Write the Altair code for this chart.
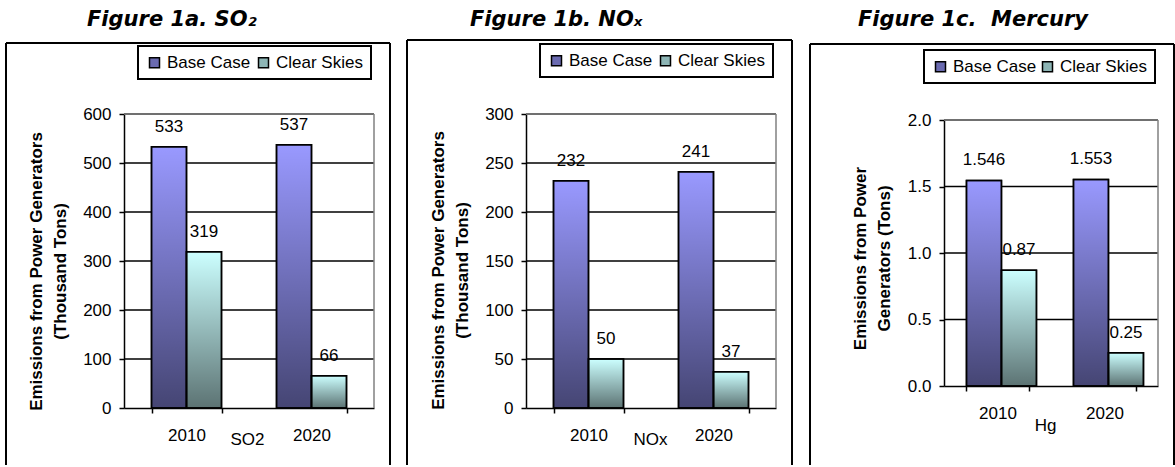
import altair as alt
import pandas as pd

# ---------------- data ----------------
years = ["2010", "2020"]
series = ["Base Case", "Clear Skies"]

so2_base = [533, 537]
so2_clear = [319, 66]
nox_base = [232, 241]
nox_clear = [50, 37]
hg_base = [1.546, 1.553]
hg_clear = [0.87, 0.25]

so2_ticks = [0, 100, 200, 300, 400, 500, 600]
nox_ticks = [0, 50, 100, 150, 200, 250, 300]
hg_ticks = [0.0, 0.5, 1.0, 1.5, 2.0]

titles = ["Figure 1a. SO\u2082", "Figure 1b. NO\u2093", "Figure 1c.\u00a0 Mercury"]
x_titles = ["SO2", "NOx", "Hg"]
y_titles = [
    ["Emissions from Power Generators", "(Thousand Tons)"],
    ["Emissions from Power Generators", "(Thousand Tons)"],
    ["Emissions from Power", "Generators (Tons)"],
]

# ---------------- style ----------------
FONT = "Liberation Sans"
TITLE_FONT = "DejaVu Sans"
CANVAS_H = 467
TOP_COLORS = ["#9999FF", "#CCFFFF"]
SWATCH_COLORS = ["#6A6AB0", "#8DB5B5"]
SHADE = {
    "gradient": "linear", "x1": 0, "y1": 0, "x2": 0, "y2": 1,
    "stops": [{"offset": 0, "color": "rgba(0,0,0,0)"},
              {"offset": 1, "color": "rgba(0,0,0,0.55)"}],
}
ORIGIN_Y = 114


def frame(base, clear):
    rows = []
    for i, yr in enumerate(years):
        rows.append({"year": yr, "series": series[0], "value": base[i], "label": f"{base[i]:g}"})
        rows.append({"year": yr, "series": series[1], "value": clear[i], "label": f"{clear[i]:g}"})
    return pd.DataFrame(rows)


def panel(df, ticks, fmt, ytitle, xtitle, fig_title, g):
    L, T = g["left"], ORIGIN_Y
    W, H = g["W"], g["H"]          # group size (flush layout)
    PW, PT = g["PW"], g["PT"]      # drawn plot width / top inset
    one = pd.DataFrame({"k": [0]})

    x = alt.X("year:N", sort=years,
              scale=alt.Scale(range=[0, PW], paddingInner=g["pi"], paddingOuter=g["pi"] / 2),
              axis=alt.Axis(title=xtitle, titleFont=FONT, titleFontSize=17, titleFontWeight="normal",
                            titleColor="black", titleX=g["xtx"], titleY=g["xty"], titleBaseline="middle",
                            titleAlign="center",
                            labelAngle=0, labelFont=FONT, labelFontSize=17, labelColor="black",
                            labelPadding=14, tickBand="extent", ticks=True, tickSize=5,
                            tickColor="black", tickWidth=1.5, domainColor="black", domainWidth=1.5,
                            grid=False))
    xo = alt.XOffset("series:N", scale=alt.Scale(domain=series, paddingInner=0, paddingOuter=0))
    y = alt.Y("value:Q", scale=alt.Scale(domain=[0, ticks[-1]], range=[H, PT], nice=False, zero=True),
              axis=alt.Axis(values=ticks, format=fmt, title=ytitle, titleFont=FONT, titleFontSize=17,
                            titleFontWeight="bold", titleColor="black", titleAngle=-90,
                            titleX=g["ytx"], titleY=g["yty"], titleBaseline="middle", titleAlign="center",
                            titleLineHeight=24,
                            labelFont=FONT, labelFontSize=17, labelColor="black", labelPadding=8,
                            tickSize=5, tickColor="black", tickWidth=1.5,
                            domainColor="black", domainWidth=1.5, grid=False))

    bounds = alt.Chart(one).mark_rect(opacity=0).encode(
        x=alt.value(g["c0"] - L), x2=alt.value(g["c1"] - L),
        y=alt.value(-T), y2=alt.value(CANVAS_H - T))

    bottom = CANVAS_H - T - 2
    b_left = alt.Chart(one).mark_rule(color="black", strokeWidth=2).encode(
        x=alt.value(g["bl"] - L), y=alt.value(g["bt"] - T), y2=alt.value(bottom))
    b_right = alt.Chart(one).mark_rule(color="black", strokeWidth=2).encode(
        x=alt.value(g["br"] - L), y=alt.value(g["bt"] - T), y2=alt.value(bottom))
    b_top = alt.Chart(one).mark_rule(color="black", strokeWidth=2).encode(
        x=alt.value(g["bl"] - L), x2=alt.value(g["br"] - L), y=alt.value(g["bt"] - T))

    ttl = alt.Chart(pd.DataFrame({"t": [fig_title]})).mark_text(
        font=TITLE_FONT, fontSize=21, fontWeight="bold", fontStyle="italic", align="left",
        baseline="alphabetic", color="black").encode(
        text="t:N", x=alt.value(g["tx"] - L), y=alt.value(26 - T))

    grid = alt.Chart(pd.DataFrame({"value": ticks[1:]})).mark_rule(
        color="black", strokeWidth=1.3).encode(y=y, x=alt.value(0), x2=alt.value(PW))

    legend_layer = alt.Chart(df).mark_bar().encode(
        x=x, xOffset=xo, y=y,
        fill=alt.Fill("series:N", scale=alt.Scale(domain=series, range=SWATCH_COLORS),
                      legend=alt.Legend(title=None, orient="none", legendX=g["lx"], legendY=g["ly"],
                                        direction="horizontal", symbolType="square", symbolSize=100,
                                        symbolStrokeColor="black", symbolStrokeWidth=1.5,
                                        symbolOpacity=1,
                                        labelFont=FONT, labelFontSize=17, labelColor="black",
                                        labelOffset=4, columnPadding=g["cp"], labelLimit=0,
                                        strokeColor="black", padding=8,
                                        fillColor="white")))

    bars = alt.Chart(df).mark_bar(stroke="black", strokeWidth=1.5).encode(
        x=x, xOffset=xo, y=y,
        color=alt.Color("series:N", scale=alt.Scale(domain=series, range=TOP_COLORS), legend=None))

    shade = alt.Chart(df).mark_bar(fill=SHADE, stroke="black", strokeWidth=1.5).encode(
        x=x, xOffset=xo, y=y)

    f_top = alt.Chart(one).mark_rule(color="#808080", strokeWidth=1.5).encode(
        x=alt.value(0), x2=alt.value(PW), y=alt.value(PT))
    f_right = alt.Chart(one).mark_rule(color="#808080", strokeWidth=1.5).encode(
        x=alt.value(PW), y=alt.value(PT), y2=alt.value(H))

    labels = alt.Chart(df).mark_text(font=FONT, fontSize=17, color="black", baseline="middle",
                                     dy=-20).encode(x=x, xOffset=xo, y=y, text="label:N")

    return alt.layer(bounds, b_left, b_right, b_top, ttl, grid, legend_layer, bars, shade,
                     f_top, f_right, labels).properties(width=W, height=H)


g1 = dict(left=124, W=250, PW=250, H=294, PT=0, c0=0, c1=398, bl=6, br=390, bt=43, tx=87,
          ytx=-88, yty=157, xtx=123, xty=31, lx=14, ly=-68, pi=0.44, cp=4)
g2 = dict(left=526, W=266, PW=250, H=294, PT=0, c0=398, c1=800, bl=407, br=792, bt=40, tx=470,
          ytx=-88, yty=156, xtx=124, xty=31, lx=14, ly=-70, pi=0.44, cp=4)
g3 = dict(left=944, W=214, PW=214, H=272, PT=6, c0=800, c1=1175, bl=810, br=1174, bt=44, tx=858,
          ytx=-84, yty=144, xtx=101, xty=39, lx=-20, ly=-64, pi=0.42, cp=2)

p1 = panel(frame(so2_base, so2_clear), so2_ticks, "d", y_titles[0], x_titles[0], titles[0], g1)
p2 = panel(frame(nox_base, nox_clear), nox_ticks, "d", y_titles[1], x_titles[1], titles[1], g2)
p3 = panel(frame(hg_base, hg_clear), hg_ticks, ".1f", y_titles[2], x_titles[2], titles[2], g3)

chart = alt.hconcat(p1, p2, p3, spacing=152, bounds="flush").resolve_scale(
    x="independent", y="independent", color="independent", fill="independent"
).resolve_legend(fill="independent", color="independent").properties(
    padding=0, background="white"
).configure_view(stroke=None).configure_legend(strokeWidth=2)

chart.save("out.html", embed_options={"renderer": "svg", "actions": False})
